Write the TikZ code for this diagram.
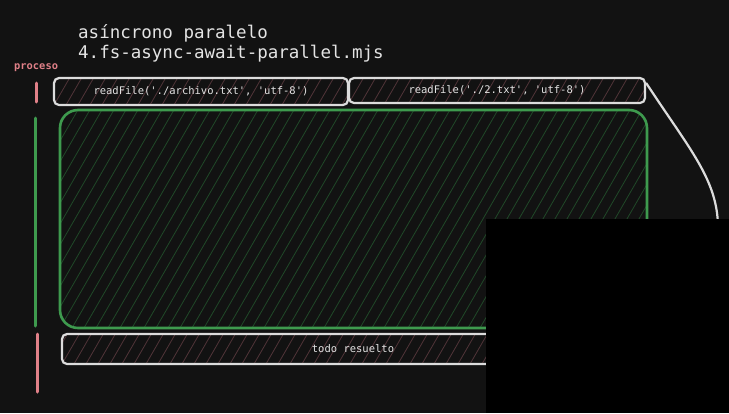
\documentclass[tikz,border=0pt]{standalone}
\usepackage{fontspec}
\setmonofont{DejaVu Sans Mono}
\usetikzlibrary{calc}
\definecolor{bgc}{HTML}{121212}
\definecolor{txtc}{HTML}{E4E4E4}
\definecolor{pinkc}{HTML}{E08088}
\definecolor{greenc}{HTML}{3E9A4E}
\definecolor{boxline}{HTML}{DCDCDC}
\definecolor{hatchred}{HTML}{503438}
\definecolor{hatchgreen}{HTML}{204828}
\tikzset{
  x=1pt, y=-1pt,
  hatch/.style={path picture={
    \foreach \i in {-25,...,55}
      \draw[#1, line width=0.8pt] ($(path picture bounding box.south west)+(\i*12pt,0)$) -- ++(60:420pt);
  }},
  callbox/.style={draw=boxline, line width=2.2pt, rounded corners=5pt, fill=bgc,
    hatch=hatchred, inner sep=0pt, font=\ttfamily\fontsize{10.5}{12}\selectfont, text=txtc},
  bigbox/.style={draw=greenc, line width=2.6pt, rounded corners=18pt, fill=bgc,
    hatch=hatchgreen, inner sep=0pt},
  bar/.style={line width=3pt, line cap=round},
  titletxt/.style={anchor=base west, inner sep=0pt, text=txtc, font=\ttfamily\fontsize{17.5}{20}\selectfont},
}
\begin{document}
\begin{tikzpicture}
\fill[bgc] (0,0) rectangle (729,413);
\useasboundingbox (0,0) rectangle (729,413);

\node[titletxt] (t1) at (78,38) {asíncrono paralelo};
\node[titletxt] (t2) at (78,58) {4.fs-async-await-parallel.mjs};
\node[anchor=base west, inner sep=0pt, text=pinkc, font=\ttfamily\bfseries\fontsize{10.4}{12}\selectfont] (proc) at (14,69) {proceso};

\draw[bar, pinkc] (36,83) -- (36,102);
\draw[bar, greenc] (35,118) -- (35,326);
\draw[bar, pinkc] (37,334) -- (37,392);

\node[bigbox, minimum width=587pt, minimum height=218pt] (par) at (353.5,219) {};
\node[callbox, minimum width=294pt, minimum height=27pt] (b1) at (201,91.5) {readFile('./archivo.txt', 'utf-8')};
\node[callbox, minimum width=296pt, minimum height=25pt] (b2) at (497,90.5) {readFile('./2.txt', 'utf-8')};
\node[callbox, minimum width=582pt, minimum height=30pt] (b3) at (353,349) {todo resuelto};

\coordinate (cend) at (718,270);
\draw[boxline, line width=2.2pt] ([yshift=-6pt]b2.north east) .. controls (690,150) and (718,180) .. (718,228) -- (cend);

\fill[black] (486,219) rectangle (729,413);
\end{tikzpicture}
\end{document}
